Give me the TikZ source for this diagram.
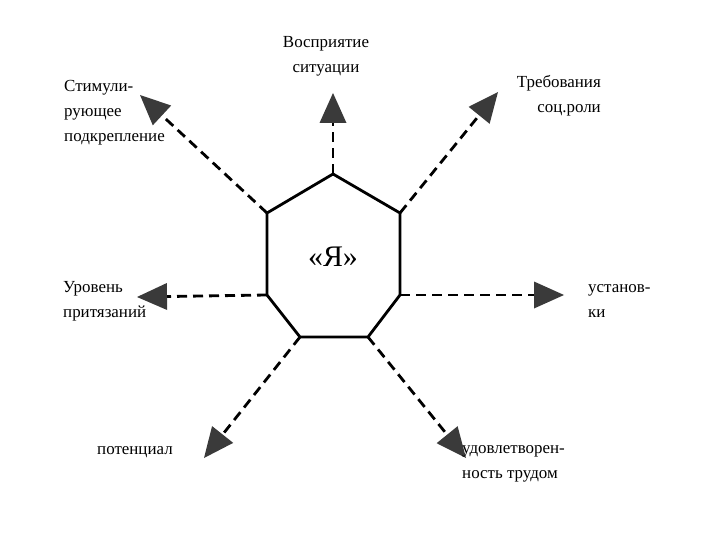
\documentclass[tikz,border=0pt]{standalone}
\usepackage{fontspec}
\setmainfont{Liberation Serif}
\usetikzlibrary{arrows.meta}
\definecolor{headgray}{HTML}{3A3A3A}
\tikzset{
  dashline/.style={draw, line width=2.8bp, dash pattern=on 10bp off 6bp,
    -{Triangle[length=30bp, width=27bp, color=headgray, line width=0pt]}},
  lbl/.style={font=\fontsize{17}{25}\selectfont, inner sep=0pt},
}
\begin{document}
\begin{tikzpicture}[x=1bp, y=-1bp]
        \useasboundingbox (0,0) rectangle (720,540);
        % vertices of the "Я" polygon
        \coordinate (hT) at (333,174);
        \coordinate (hUR) at (400,213);
        \coordinate (hR) at (400,295);
        \coordinate (hLR) at (368,337);
        \coordinate (hLL) at (300,337);
        \coordinate (hL) at (267,295);
        \coordinate (hUL) at (267,213);
        \path[draw, line width=2.8bp, line join=miter](hT)--(hUR)--(hR)--(hLR)--(hLL)--(hL)--(hUL)--cycle;
        \node[font=\fontsize{30}{30}\selectfont] (ego) at (333,257) {«Я»};
        % arrow ends
        \coordinate (eT) at (333,93);
        \coordinate (eUR) at (498,92);
        \coordinate (eR) at (564,295);
        \coordinate (eLR) at (466,458);
        \coordinate (eLL) at (204,458);
        \coordinate (eL) at (137,297);
        \coordinate (eUL) at (140,95);
        \foreach \a/\b in {hT/eT, hUR/eUR, hR/eR, hLR/eLR, hLL/eLL, hL/eL, hUL/eUL}
        {
            \path[dashline](\a)--(\b);
        }
        % labels
        \node[lbl, align=center] (lT) at (326,56) {Восприятие\\ситуации};
        \node[lbl, align=left, anchor=west] (lUL) at (64,113) {Стимули-\\рующее\\подкрепление};
        \node[lbl, align=right, anchor=east] (lUR) at (601,96) {Требования\\соц.роли};
        \node[lbl, align=left, anchor=west] (lL) at (63,301) {Уровень\\притязаний};
        \node[lbl, align=left, anchor=west] (lR) at (588,301) {установ-\\ки};
        \node[lbl, anchor=west] (lLL) at (97,452) {потенциал};
        \node[lbl, align=left, anchor=west] (lLR) at (462,464) {удовлетворен-\\ность трудом};
\end{tikzpicture}
\end{document}
